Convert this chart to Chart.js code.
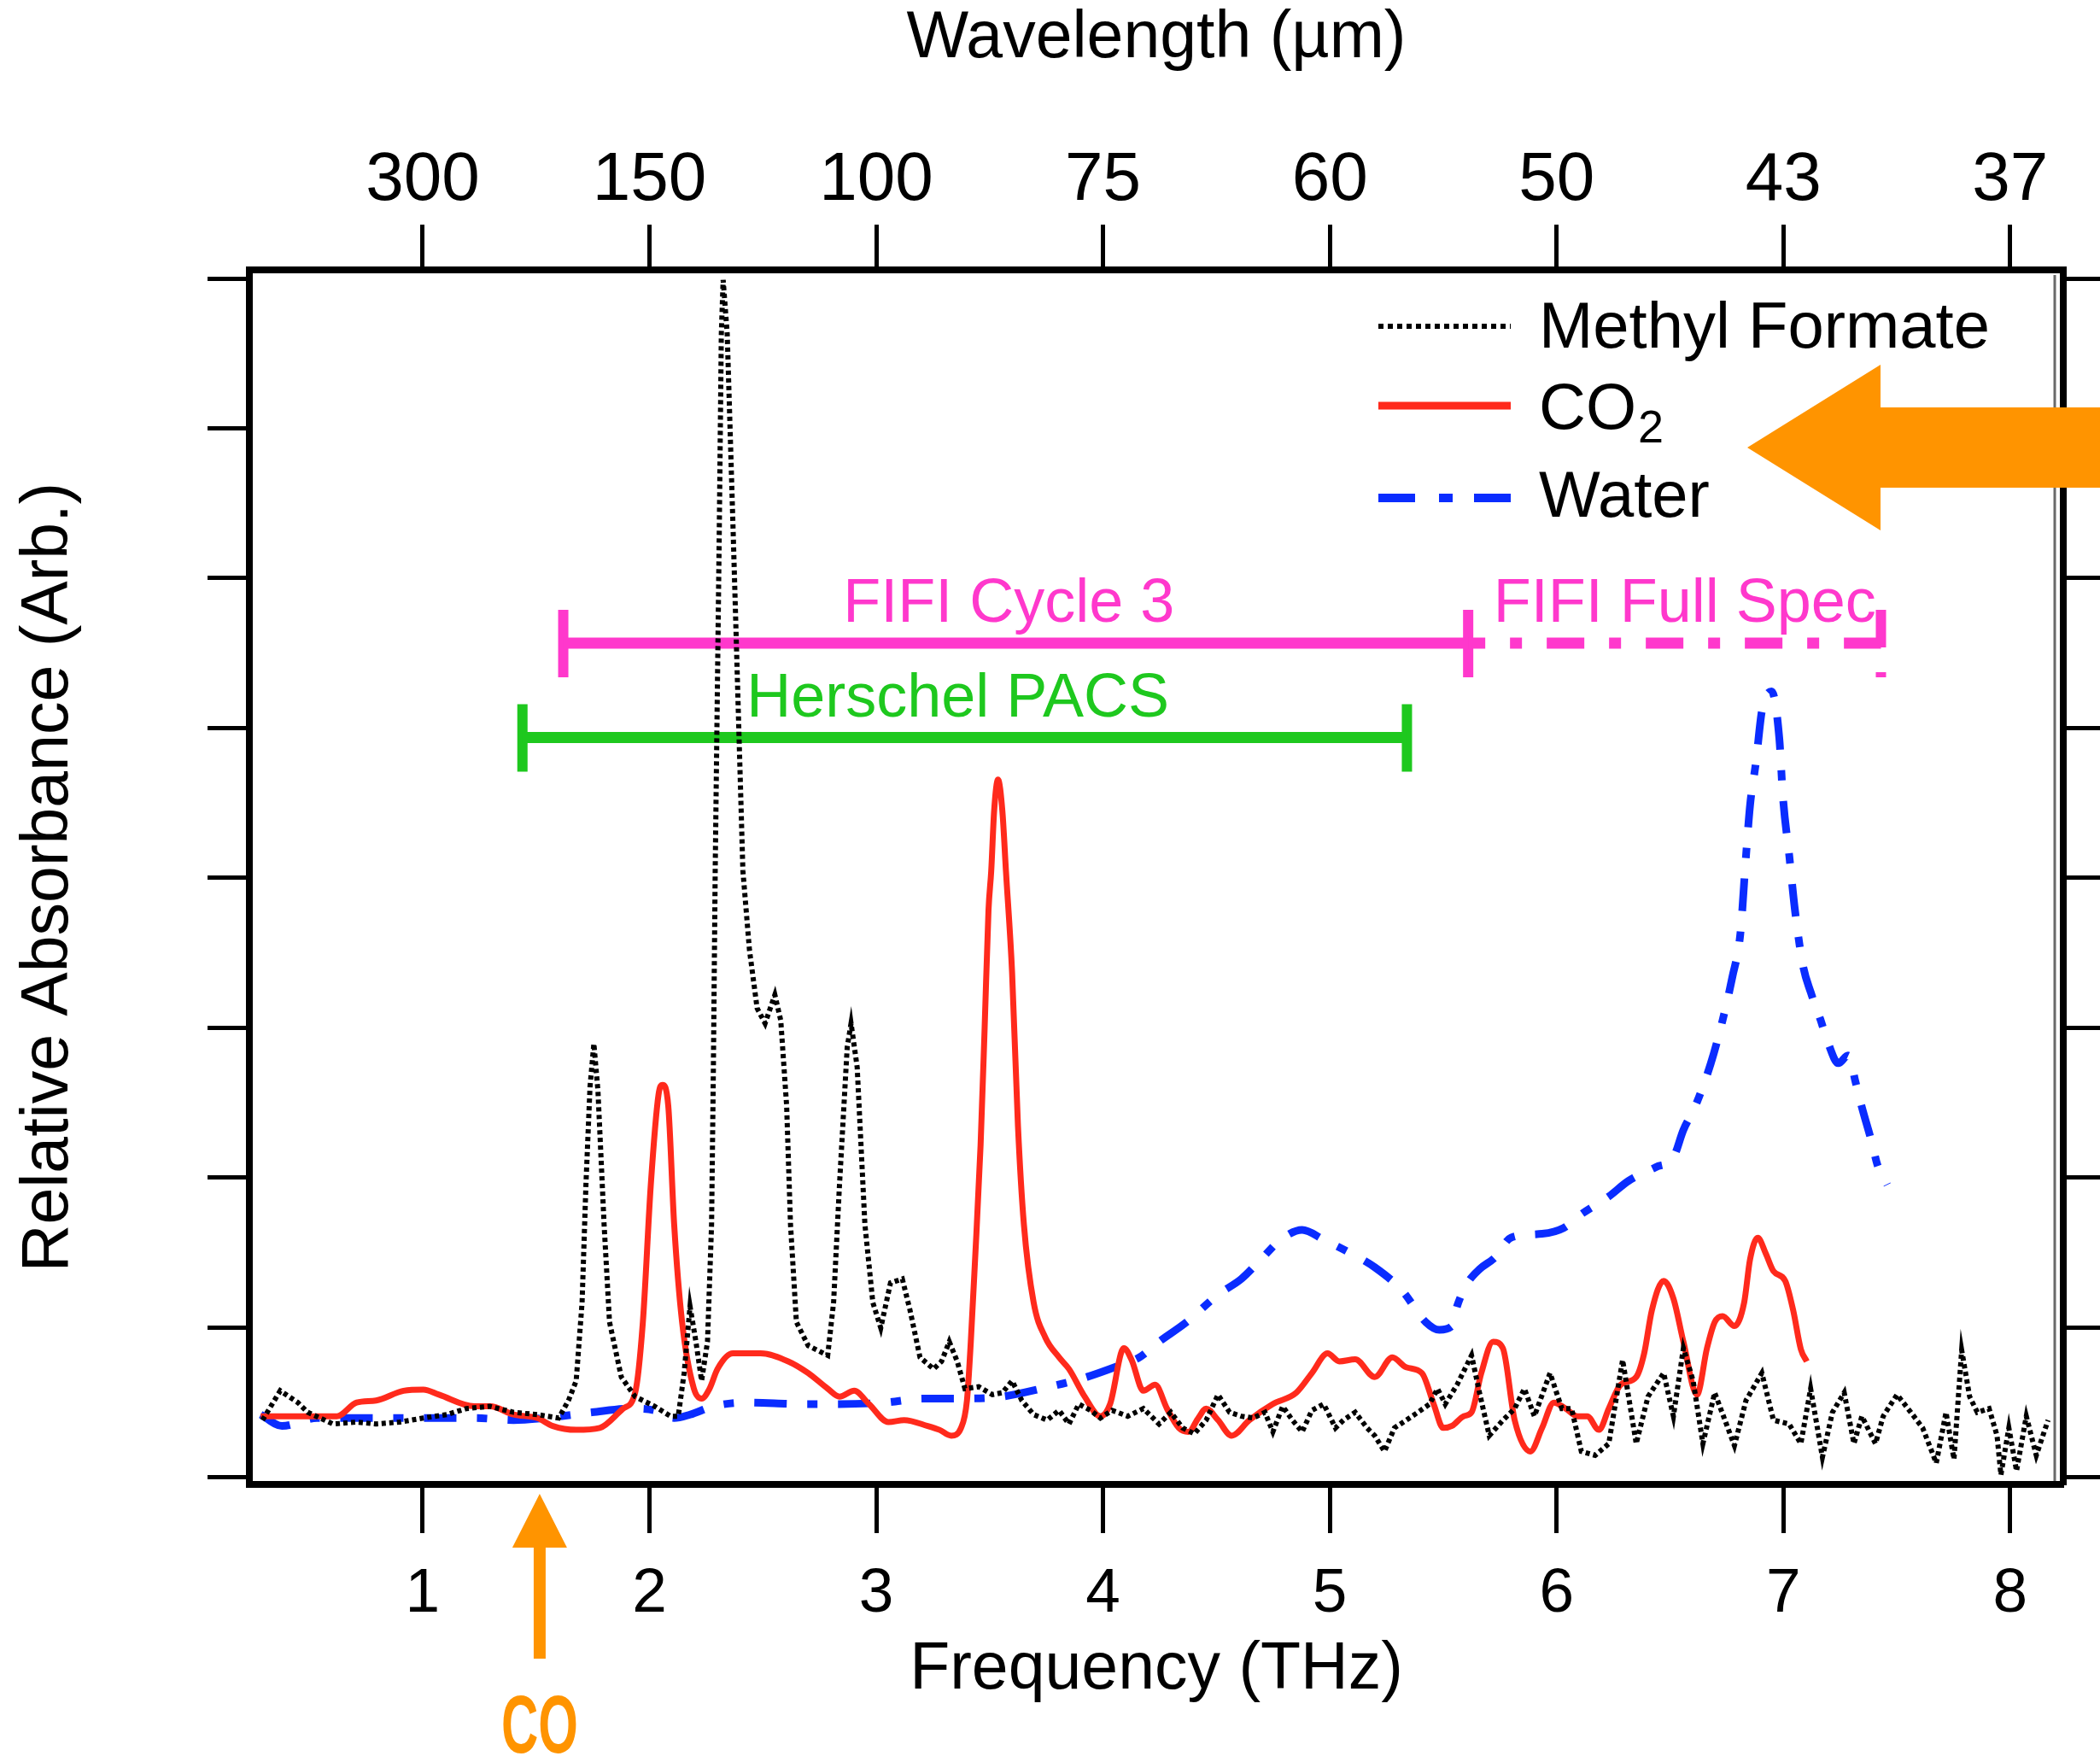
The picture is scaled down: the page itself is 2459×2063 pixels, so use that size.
<!DOCTYPE html>
<html>
<head>
<meta charset="utf-8">
<title>Relative absorbance spectra</title>
<script src="https://cdn.jsdelivr.net/npm/chart.js@4.4.1/dist/chart.umd.min.js"></script>
<style>
  html, body { margin: 0; padding: 0; background: #ffffff; }
  #wrap { width: 2459px; height: 2063px; position: relative; }
  canvas { display: block; }
</style>
</head>
<body>
<div id="wrap"><canvas id="spectra" width="2459" height="2063"></canvas></div>
<script>
// ---- Axis ticks ----
const freqTicks = [1, 2, 3, 4, 5, 6, 7, 8];                       // THz
const wavelengthLabels = ['300', '150', '100', '75', '60', '50', '43', '37']; // µm, at the same positions
const absorbanceTicks = [0, 1, 2, 3, 4, 5, 6, 7, 8];

// ---- Methyl formate (black dotted) ----
const methylFreq = [0.294, 0.372, 0.45, 0.493, 0.605, 0.709, 0.795, 0.899, 1.003, 1.107, 1.193, 1.297, 1.401, 1.505, 1.6,
  1.643, 1.677, 1.703, 1.72, 1.738, 1.755, 1.773, 1.8, 1.824, 1.876, 1.937, 2.023, 2.093, 2.127, 2.153, 2.179, 2.205, 2.23,
  2.256, 2.274, 2.282, 2.29, 2.308, 2.317, 2.325, 2.343, 2.369, 2.412, 2.441, 2.475, 2.51, 2.553, 2.579, 2.605, 2.622, 2.648,
  2.7, 2.786, 2.812, 2.838, 2.872, 2.889, 2.916, 2.933, 2.95, 2.985, 3.02, 3.063, 3.115, 3.149, 3.193, 3.253, 3.288, 3.322,
  3.357, 3.391, 3.452, 3.512, 3.556, 3.599, 3.642, 3.694, 3.754, 3.806, 3.85, 3.893, 3.945, 3.988, 4.04, 4.109, 4.178, 4.247,
  4.299, 4.351, 4.403, 4.455, 4.507, 4.558, 4.61, 4.662, 4.714, 4.749, 4.792, 4.835, 4.878, 4.921, 4.973, 5.025, 5.06, 5.112,
  5.164, 5.198, 5.241, 5.285, 5.337, 5.388, 5.44, 5.475, 5.509, 5.561, 5.625, 5.66, 5.703, 5.764, 5.815, 5.858, 5.902, 5.971,
  6.023, 6.066, 6.109, 6.17, 6.23, 6.291, 6.351, 6.403, 6.472, 6.515, 6.559, 6.602, 6.645, 6.697, 6.784, 6.835, 6.905, 6.956,
  7.025, 7.077, 7.12, 7.172, 7.216, 7.268, 7.311, 7.346, 7.406, 7.44, 7.501, 7.562, 7.614, 7.674, 7.717, 7.752, 7.786, 7.821,
  7.855, 7.907, 7.942, 7.959, 7.994, 8.028, 8.071, 8.115, 8.167];
const methylAbs = [0.383, 0.579, 0.50, 0.435, 0.357, 0.37, 0.357, 0.37, 0.397, 0.42, 0.46, 0.475, 0.435, 0.42, 0.397,
  0.514, 0.645, 1.168, 1.953, 2.607, 2.895, 2.58, 1.69, 1.037, 0.67, 0.54, 0.475, 0.409, 0.409, 0.697, 1.142, 0.906, 0.645,
  0.906, 1.69, 2.737, 4.05, 6.32, 7.63, 7.99, 7.63, 6.32, 4.05, 3.52, 3.13, 3.03, 3.22, 3.05, 2.48, 1.69, 1.037,
  0.88, 0.815, 1.168, 1.953, 2.87, 3.03, 2.737, 2.214, 1.69, 1.168, 0.998, 1.299, 1.325, 1.116, 0.802, 0.724, 0.775, 0.906,
  0.775, 0.593, 0.606, 0.553, 0.566, 0.645, 0.514, 0.42, 0.383, 0.448, 0.357, 0.49, 0.448, 0.397, 0.448, 0.409, 0.46, 0.357,
  0.435, 0.331, 0.292, 0.383, 0.553, 0.435, 0.409, 0.397, 0.435, 0.305, 0.475, 0.383, 0.305, 0.448, 0.49, 0.331, 0.383, 0.435,
  0.331, 0.279, 0.174, 0.331, 0.383, 0.435, 0.49, 0.593, 0.49, 0.619, 0.815, 0.566, 0.279, 0.383, 0.46, 0.593, 0.409, 0.697,
  0.46, 0.46, 0.174, 0.148, 0.226, 0.785, 0.226, 0.54, 0.697, 0.409, 0.863, 0.645, 0.226, 0.566, 0.213, 0.514, 0.697, 0.383,
  0.357, 0.226, 0.593, 0.135, 0.435, 0.566, 0.226, 0.409, 0.226, 0.409, 0.553, 0.435, 0.331, 0.096, 0.435, 0.122, 0.85, 0.54,
  0.435, 0.46, 0.279, 0.017, 0.331, 0.044, 0.409, 0.148, 0.383];

// ---- CO2 (red solid) ----
const co2Freq = [0.286, 0.622, 0.709, 0.795, 0.916, 1.003, 1.072, 1.228, 1.297, 1.401, 1.505, 1.574, 1.677, 1.781, 1.884,
  1.937, 1.971, 2.006, 2.04, 2.058, 2.083, 2.109, 2.144, 2.196, 2.23, 2.265, 2.3, 2.368, 2.49, 2.612, 2.7, 2.786, 2.838, 2.903,
  2.968, 3.054, 3.123, 3.227, 3.279, 3.331, 3.374, 3.4, 3.417, 3.435, 3.46, 3.478, 3.495, 3.507, 3.52, 3.537, 3.556, 3.572,
  3.599, 3.625, 3.651, 3.694, 3.746, 3.806, 3.85, 3.919, 3.988, 4.031, 4.092, 4.126, 4.178, 4.23, 4.282, 4.334, 4.377, 4.42,
  4.455, 4.507, 4.567, 4.645, 4.748, 4.852, 4.921, 4.99, 5.042, 5.112, 5.198, 5.276, 5.336, 5.406, 5.458, 5.5, 5.539, 5.59,
  5.625, 5.668, 5.72, 5.763, 5.815, 5.884, 5.936, 5.988, 6.04, 6.092, 6.135, 6.187, 6.23, 6.282, 6.351, 6.386, 6.42, 6.472,
  6.515, 6.559, 6.619, 6.663, 6.697, 6.732, 6.784, 6.827, 6.853, 6.887, 6.922, 6.956, 7.008, 7.043, 7.077, 7.103];
const co2Abs = [0.409, 0.409, 0.50, 0.514, 0.579, 0.587, 0.553, 0.475, 0.475, 0.42, 0.397, 0.344, 0.318, 0.331, 0.46,
  0.566, 1.037, 1.953, 2.554, 2.62, 2.48, 1.69, 1.037, 0.593, 0.527, 0.593, 0.724, 0.828, 0.828, 0.775, 0.697, 0.593, 0.54, 0.579,
  0.49, 0.37, 0.383, 0.344, 0.318, 0.279, 0.331, 0.514, 0.906, 1.43, 2.214, 2.999, 3.784, 4.046, 4.45, 4.656, 4.45, 4.046,
  3.37, 2.344, 1.69, 1.168, 0.933, 0.802, 0.724, 0.54, 0.409, 0.49, 0.863, 0.785, 0.579, 0.619, 0.46, 0.331, 0.305, 0.397,
  0.46, 0.383, 0.279, 0.383, 0.49, 0.566, 0.697, 0.828, 0.775, 0.789, 0.671, 0.802, 0.736, 0.697, 0.49, 0.331, 0.345, 0.409,
  0.435, 0.697, 0.906, 0.863, 0.383, 0.174, 0.331, 0.50, 0.46, 0.409, 0.409, 0.318, 0.46, 0.619, 0.671, 0.828, 1.116, 1.312,
  1.194, 0.906, 0.553, 0.863, 1.037, 1.077, 1.011, 1.168, 1.456, 1.6, 1.495, 1.377, 1.312, 1.116, 0.855, 0.775];

// ---- Water (blue dash-dot) ----
const waterFreq = [0.286, 0.38, 0.534, 0.883, 1.228, 1.401, 1.539, 1.747, 1.92, 2.023, 2.109, 2.179, 2.282, 2.42, 2.68,
  2.838, 3.037, 3.21, 3.383, 3.556, 3.728, 3.901, 4.074, 4.161, 4.247, 4.368, 4.507, 4.61, 4.697, 4.783, 4.878, 4.973, 5.077,
  5.198, 5.319, 5.423, 5.483, 5.539, 5.561, 5.608, 5.66, 5.729, 5.798, 5.936, 6.031, 6.109, 6.23, 6.317, 6.438, 6.515, 6.559,
  6.611, 6.68, 6.732, 6.775, 6.81, 6.835, 6.853, 6.879, 6.905, 6.948, 6.982, 6.998, 7.026, 7.051, 7.086, 7.121, 7.164, 7.198,
  7.242, 7.285, 7.319, 7.345, 7.389, 7.415, 7.458];
const waterAbs = [0.42, 0.344, 0.397, 0.397, 0.397, 0.383, 0.397, 0.435, 0.46, 0.448, 0.397, 0.42, 0.475, 0.50, 0.49,
  0.49, 0.50, 0.527, 0.527, 0.54, 0.593, 0.658, 0.749, 0.802, 0.906, 1.037, 1.22, 1.325, 1.456, 1.586, 1.652, 1.587, 1.508,
  1.403, 1.247, 1.037, 0.985, 1.011, 1.142, 1.299, 1.39, 1.469, 1.6, 1.626, 1.665, 1.757, 1.875, 1.979, 2.071, 2.136, 2.319,
  2.476, 2.764, 3.052, 3.34, 3.627, 4.146, 4.486, 4.774, 5.113, 5.245, 4.93, 4.538, 4.146, 3.784, 3.418, 3.235, 3.052, 2.895,
  2.764, 2.816, 2.633, 2.476, 2.24, 2.084, 1.953];

// ---- Instrument coverage ranges (THz) ----
const rangeNames = ['FIFI Cycle 3', 'FIFI Full Spec', 'Herschel PACS'];
const rangeStart = [1.62, 5.61, 1.44];
const rangeEnd = [5.61, 7.43, 5.34];
const rangeLevel = [5.567, 5.567, 4.937];

// ---- CO line marker (THz) ----
const coLineFreq = 1.516;

// ---- Styling ----
const FONT = '"Liberation Sans", Arial, Helvetica, sans-serif';
const RED = '#ff2a1c';
const BLUE = '#0a2cff';
const MAGENTA = '#ff38cc';
const GREEN = '#1ec81e';
const ORANGE = '#ff9400';
const rangeColor = [MAGENTA, MAGENTA, GREEN];
const rangeDash = [[], [44, 29, 14, 29], []];
const rangeCapStart = [true, false, true];

const toPoints = (xs, ys) => xs.map((x, i) => ({ x, y: ys[i] }));

const X_MIN = 0.236, X_MAX = 8.234;
const Y_MIN = -0.046, Y_MAX = 8.057;

// Caps, range labels, legend and annotation arrows
const decorations = {
  id: 'decorations',
  beforeDatasetsDraw(chart) {
    const { ctx, scales: { x, y } } = chart;
    ctx.save();
    rangeNames.forEach((name, i) => {
      const yp = y.getPixelForValue(rangeLevel[i]);
      const x0 = x.getPixelForValue(rangeStart[i]);
      const x1 = x.getPixelForValue(rangeEnd[i]);
      ctx.strokeStyle = rangeColor[i];
      ctx.lineWidth = 12;
      ctx.lineCap = 'butt';
      const caps = rangeCapStart[i] ? [x0, x1] : [x1];
      caps.forEach(cx => {
        ctx.setLineDash(rangeDash[i].length ? rangeDash[i] : []);
        ctx.lineDashOffset = 0;
        ctx.beginPath();
        ctx.moveTo(cx, yp - 39);
        ctx.lineTo(cx, yp + 40);
        ctx.stroke();
      });
      ctx.setLineDash([]);
      ctx.fillStyle = rangeColor[i];
      ctx.font = '72px ' + FONT;
      ctx.textAlign = 'center';
      ctx.textBaseline = 'alphabetic';
      ctx.fillText(name, (x0 + x1) / 2 + (rangeDash[i].length ? 12 : -8), yp - 25);
    });
    ctx.restore();
  },
  afterDraw(chart) {
    const { ctx, chartArea: area, scales: { x, y } } = chart;
    ctx.save();

    // inner frame line along the right axis
    ctx.strokeStyle = '#6a6a6a';
    ctx.lineWidth = 3;
    ctx.beginPath();
    ctx.moveTo(area.right - 10, area.top + 6);
    ctx.lineTo(area.right - 10, area.bottom - 4);
    ctx.stroke();

    // legend
    const lx0 = area.right - 802, lx1 = area.right - 647, tx = area.right - 614;
    ctx.lineCap = 'butt';
    ctx.strokeStyle = '#000';
    ctx.lineWidth = 6;
    ctx.setLineDash([6, 5]);
    ctx.beginPath(); ctx.moveTo(lx0, area.top + 66); ctx.lineTo(lx1, area.top + 66); ctx.stroke();
    ctx.strokeStyle = RED;
    ctx.lineWidth = 9;
    ctx.setLineDash([]);
    ctx.beginPath(); ctx.moveTo(lx0, area.top + 159); ctx.lineTo(lx1, area.top + 159); ctx.stroke();
    ctx.strokeStyle = BLUE;
    ctx.lineWidth = 10;
    ctx.setLineDash([43, 28, 16, 25]);
    ctx.beginPath(); ctx.moveTo(lx0, area.top + 267); ctx.lineTo(lx1, area.top + 267); ctx.stroke();
    ctx.setLineDash([]);

    ctx.fillStyle = '#000';
    ctx.textAlign = 'left';
    ctx.textBaseline = 'alphabetic';
    ctx.font = '76px ' + FONT;
    ctx.fillText('Methyl Formate', tx, area.top + 91);
    ctx.fillText('CO', tx, area.top + 186);
    const coW = ctx.measureText('CO').width;
    ctx.font = '54px ' + FONT;
    ctx.fillText('2', tx + coW + 2, area.top + 202);
    ctx.font = '76px ' + FONT;
    ctx.fillText('Water', tx, area.top + 289);

    // large arrow pointing at the legend
    ctx.fillStyle = ORANGE;
    const ax = area.right - 370, ay = area.top + 208;
    ctx.beginPath();
    ctx.moveTo(ax, ay);
    ctx.lineTo(ax + 156, ay - 97);
    ctx.lineTo(ax + 156, ay - 47);
    ctx.lineTo(chart.width + 2, ay - 47);
    ctx.lineTo(chart.width + 2, ay + 47);
    ctx.lineTo(ax + 156, ay + 47);
    ctx.lineTo(ax + 156, ay + 97);
    ctx.closePath();
    ctx.fill();

    // CO line marker below the frequency axis
    const cx = x.getPixelForValue(coLineFreq);
    const ty = area.bottom + 11;
    ctx.beginPath();
    ctx.moveTo(cx, ty);
    ctx.lineTo(cx + 32, ty + 63);
    ctx.lineTo(cx + 7, ty + 63);
    ctx.lineTo(cx + 7, ty + 193);
    ctx.lineTo(cx - 7, ty + 193);
    ctx.lineTo(cx - 7, ty + 63);
    ctx.lineTo(cx - 32, ty + 63);
    ctx.closePath();
    ctx.fill();

    ctx.font = 'bold 97px ' + FONT;
    const w = ctx.measureText('CO').width;
    const sx = 90 / w;
    ctx.translate(cx, area.bottom + 314);
    ctx.scale(sx, 1);
    ctx.textAlign = 'center';
    ctx.fillText('CO', 0, 0);

    ctx.restore();
  }
};

const commonTickFont = { family: FONT, size: 73 };

new Chart(document.getElementById('spectra'), {
  type: 'scatter',
  data: {
    datasets: [
      {
        label: 'Methyl Formate', data: toPoints(methylFreq, methylAbs),
        showLine: true, borderColor: '#000', borderWidth: 6, borderDash: [5, 4],
        pointRadius: 0, tension: 0, order: 1
      },
      {
        label: 'CO2', data: toPoints(co2Freq, co2Abs),
        showLine: true, borderColor: RED, borderWidth: 7, cubicInterpolationMode: 'monotone',
        pointRadius: 0, order: 2
      },
      {
        label: 'Water', data: toPoints(waterFreq, waterAbs),
        showLine: true, borderColor: BLUE, borderWidth: 9, borderDash: [38, 24, 12, 24],
        cubicInterpolationMode: 'monotone', pointRadius: 0, order: 3
      },
      ...rangeNames.map((name, i) => ({
        label: name,
        data: [{ x: rangeStart[i], y: rangeLevel[i] }, { x: rangeEnd[i], y: rangeLevel[i] }],
        showLine: true, borderColor: rangeColor[i], borderWidth: 13,
        borderDash: rangeDash[i], borderDashOffset: rangeDash[i].length ? 24 : 0,
        borderCapStyle: 'butt', pointRadius: 0, order: 10
      }))
    ]
  },
  options: {
    responsive: false,
    animation: false,
    devicePixelRatio: 1,
    layout: { padding: 0 },
    plugins: { legend: { display: false }, tooltip: { enabled: false } },
    scales: {
      x: {
        type: 'linear', position: 'bottom', min: X_MIN, max: X_MAX,
        afterBuildTicks: s => { s.ticks = freqTicks.map(v => ({ value: v })); },
        afterFit: s => { s.height = 325; },
        ticks: { font: commonTickFont, color: '#000', padding: 28, maxRotation: 0, callback: v => String(v) },
        grid: { drawOnChartArea: false, drawTicks: true, tickLength: 57, tickWidth: 5, tickColor: '#000' },
        border: { display: true, width: 8, color: '#000' },
        title: { display: true, text: 'Frequency (THz)', color: '#000', font: { family: FONT, size: 77 }, padding: { top: 0, bottom: 61 } }
      },
      x2: {
        type: 'linear', position: 'top', min: X_MIN, max: X_MAX,
        afterBuildTicks: s => { s.ticks = freqTicks.map(v => ({ value: v })); },
        afterFit: s => { s.height = 316; },
        ticks: { font: { family: FONT, size: 80 }, color: '#000', padding: 3, maxRotation: 0, callback: (v, i) => wavelengthLabels[i] },
        grid: { drawOnChartArea: false, drawTicks: true, tickLength: 53, tickWidth: 5, tickColor: '#000' },
        border: { display: true, width: 8, color: '#000' },
        title: { display: true, text: 'Wavelength (µm)', color: '#000', font: { family: FONT, size: 77 }, padding: { top: 0, bottom: 0 } }
      },
      y: {
        type: 'linear', position: 'left', min: Y_MIN, max: Y_MAX,
        afterBuildTicks: s => { s.ticks = absorbanceTicks.map(v => ({ value: v })); },
        afterFit: s => { s.width = 292; },
        ticks: { display: false },
        grid: { drawOnChartArea: false, drawTicks: true, tickLength: 49, tickWidth: 5, tickColor: '#000' },
        border: { display: true, width: 8, color: '#000' },
        title: { display: true, text: 'Relative Absorbance (Arb.)', color: '#000', font: { family: FONT, size: 77 }, padding: { top: 12, bottom: 0 } }
      },
      y2: {
        type: 'linear', position: 'right', min: Y_MIN, max: Y_MAX,
        afterBuildTicks: s => { s.ticks = absorbanceTicks.map(v => ({ value: v })); },
        afterFit: s => { s.width = 43; },
        ticks: { display: false },
        grid: { drawOnChartArea: false, drawTicks: true, tickLength: 60, tickWidth: 5, tickColor: '#000' },
        border: { display: true, width: 8, color: '#000' }
      }
    }
  },
  plugins: [decorations]
});
</script>
</body>
</html>
